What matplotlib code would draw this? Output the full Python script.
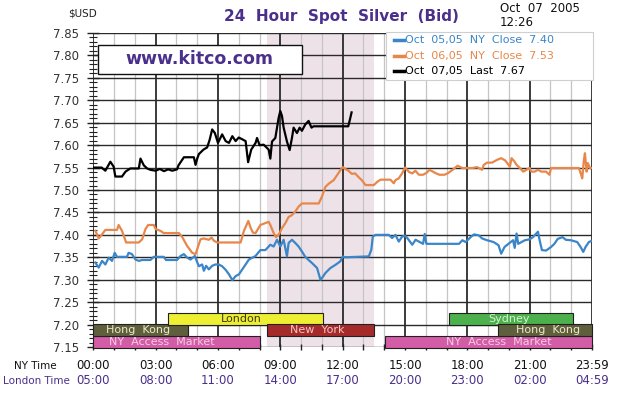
import numpy as np
import matplotlib.pyplot as plt
from matplotlib.patches import Rectangle
from matplotlib.lines import Line2D
from matplotlib.ticker import MultipleLocator, FormatStrFormatter

# --- data (hours NY time, price $USD) ---
t_oct05 = [0.1, 0.26, 0.42, 0.58, 0.74, 0.9, 1.03, 1.14, 1.62, 1.7, 1.86, 2.03, 2.19, 2.35, 2.75,
           2.91, 3.39, 3.5, 4.03, 4.2, 4.36, 4.52, 4.68, 4.89, 4.95, 5.08, 5.24, 5.32, 5.43, 5.56,
           5.72, 5.88, 6.04, 6.2, 6.37, 6.53, 6.69, 6.85, 7.01, 7.17, 7.33, 7.49, 7.65, 7.81, 8.04,
           8.28, 8.52, 8.68, 8.84, 9.0, 9.16, 9.32, 9.4, 9.56, 9.72, 9.88, 10.04, 10.2, 10.36, 10.53,
           10.77, 10.93, 11.01, 11.17, 11.41, 11.65, 11.89, 12.0, 12.12, 13.26, 13.38, 13.45, 13.58,
           14.22, 14.38, 14.54, 14.7, 14.86, 15.0, 15.11, 15.35, 15.51, 15.67, 15.87, 15.95, 16.03,
           16.18, 17.6, 17.76, 17.92, 18.16, 18.32, 18.55, 18.71, 18.95, 19.26, 19.5, 19.63, 19.79,
           19.98, 20.2, 20.28, 20.37, 20.45, 20.77, 21.0, 21.16, 21.4, 21.48, 21.59, 21.79, 22.03,
           22.19, 22.35, 22.58, 22.74, 22.98, 23.29, 23.45, 23.58, 23.69, 23.85, 23.95]
p_oct05 = [7.338, 7.327, 7.342, 7.334, 7.349, 7.342, 7.360, 7.351, 7.351, 7.360, 7.357, 7.345, 7.342,
           7.344, 7.344, 7.351, 7.351, 7.344, 7.344, 7.353, 7.357, 7.349, 7.345, 7.353, 7.345, 7.330,
           7.334, 7.320, 7.331, 7.323, 7.331, 7.334, 7.334, 7.330, 7.322, 7.312, 7.299, 7.308, 7.312,
           7.323, 7.334, 7.345, 7.349, 7.353, 7.366, 7.366, 7.378, 7.374, 7.389, 7.374, 7.389, 7.352,
           7.382, 7.389, 7.382, 7.374, 7.363, 7.351, 7.344, 7.337, 7.326, 7.300, 7.304, 7.315, 7.326,
           7.333, 7.341, 7.352, 7.350, 7.352, 7.367, 7.396, 7.400, 7.400, 7.393, 7.400, 7.385, 7.396,
           7.398, 7.393, 7.378, 7.389, 7.385, 7.380, 7.402, 7.380, 7.380, 7.380, 7.388, 7.384, 7.395,
           7.401, 7.399, 7.392, 7.388, 7.384, 7.377, 7.358, 7.373, 7.380, 7.388, 7.371, 7.403, 7.380,
           7.388, 7.390, 7.395, 7.407, 7.388, 7.366, 7.365, 7.373, 7.380, 7.391, 7.395, 7.389, 7.388,
           7.384, 7.373, 7.362, 7.373, 7.384, 7.386]

t_oct06 = [0.1, 0.26, 0.42, 0.58, 1.14, 1.22, 1.38, 1.58, 2.19, 2.35, 2.51, 2.64, 2.91, 3.0, 3.23,
           3.39, 4.12, 4.28, 4.52, 4.76, 4.92, 5.05, 5.16, 5.32, 5.56, 5.69, 5.8, 5.96, 7.09, 7.25,
           7.46, 7.57, 7.68, 7.81, 8.04, 8.44, 8.52, 8.68, 8.79, 8.92, 9.08, 9.24, 9.4, 9.56, 9.72,
           9.88, 10.04, 10.85, 11.0, 11.17, 11.33, 11.57, 11.73, 11.89, 12.0, 12.12, 12.28, 12.44,
           12.6, 12.76, 12.92, 13.1, 13.5, 13.66, 13.82, 14.3, 14.46, 14.54, 14.7, 14.86, 15.0, 15.2,
           15.35, 15.5, 15.67, 15.87, 16.03, 16.18, 16.34, 16.5, 16.66, 16.9, 17.05, 17.29, 17.53,
           17.76, 18.0, 18.24, 18.47, 18.71, 18.79, 18.95, 19.19, 19.42, 19.63, 19.82, 20.05, 20.13,
           20.26, 20.37, 20.53, 20.69, 20.84, 21.0, 21.08, 21.24, 21.4, 21.56, 21.79, 21.95, 22.03,
           23.37, 23.45, 23.53, 23.61, 23.66, 23.74, 23.8, 23.9, 23.98]
p_oct06 = [7.409, 7.392, 7.401, 7.411, 7.411, 7.422, 7.409, 7.383, 7.383, 7.390, 7.413, 7.422, 7.422,
           7.413, 7.409, 7.404, 7.404, 7.395, 7.375, 7.360, 7.357, 7.375, 7.390, 7.392, 7.389, 7.394,
           7.387, 7.383, 7.383, 7.409, 7.431, 7.416, 7.405, 7.404, 7.422, 7.429, 7.422, 7.404, 7.395,
           7.400, 7.415, 7.426, 7.440, 7.444, 7.452, 7.463, 7.470, 7.470, 7.485, 7.507, 7.514, 7.522,
           7.533, 7.544, 7.551, 7.547, 7.543, 7.536, 7.537, 7.529, 7.522, 7.511, 7.511, 7.518, 7.523,
           7.523, 7.515, 7.522, 7.526, 7.537, 7.550, 7.540, 7.537, 7.543, 7.534, 7.534, 7.538, 7.545,
           7.541, 7.537, 7.534, 7.534, 7.537, 7.545, 7.554, 7.549, 7.549, 7.549, 7.551, 7.545, 7.556,
           7.561, 7.561, 7.567, 7.571, 7.566, 7.552, 7.571, 7.564, 7.556, 7.549, 7.541, 7.545, 7.549,
           7.541, 7.541, 7.545, 7.541, 7.541, 7.534, 7.549, 7.549, 7.538, 7.526, 7.567, 7.582, 7.541,
           7.560, 7.549, 7.549]

t_oct07 = [0.0, 0.4, 0.58, 0.82, 0.98, 1.06, 1.38, 1.55, 1.78, 2.19, 2.27, 2.43, 2.59, 2.75, 3.0,
           3.2, 3.4, 3.6, 3.8, 4.03, 4.1, 4.36, 4.84, 4.92, 5.0, 5.08, 5.3, 5.48, 5.6, 5.72, 5.85,
           6.0, 6.2, 6.37, 6.53, 6.69, 6.85, 7.0, 7.17, 7.33, 7.45, 7.6, 7.81, 7.88, 8.0, 8.2, 8.44,
           8.52, 8.6, 8.76, 8.92, 9.0, 9.08, 9.16, 9.32, 9.45, 9.56, 9.64, 9.8, 9.93, 10.04, 10.2,
           10.36, 10.5, 10.6, 10.75, 12.27, 12.35, 12.43]
p_oct07 = [7.550, 7.550, 7.543, 7.563, 7.552, 7.530, 7.530, 7.541, 7.548, 7.548, 7.570, 7.555, 7.548,
           7.545, 7.543, 7.547, 7.542, 7.546, 7.543, 7.546, 7.555, 7.573, 7.573, 7.556, 7.570, 7.580,
           7.590, 7.595, 7.612, 7.635, 7.627, 7.605, 7.624, 7.609, 7.605, 7.620, 7.609, 7.617, 7.613,
           7.609, 7.562, 7.590, 7.605, 7.616, 7.600, 7.601, 7.590, 7.570, 7.608, 7.616, 7.661, 7.676,
           7.665, 7.639, 7.608, 7.589, 7.616, 7.639, 7.627, 7.639, 7.632, 7.646, 7.654, 7.639, 7.642,
           7.642, 7.642, 7.657, 7.673]

legend_labels = ['Oct  05,05  NY  Close  7.40', 'Oct  06,05  NY  Close  7.53', 'Oct  07,05  Last  7.67']

# market sessions (hours NY time)
sess_names = ['NY  Access  Market', 'Hong  Kong', 'London', 'New  York', 'NY  Access  Market',
              'Sydney', 'Hong  Kong']
sess_start = [0.0, 0.0, 3.6, 8.35, 14.05, 17.1, 19.5]
sess_end = [8.0, 4.55, 11.05, 13.5, 24.0, 23.1, 24.0]

ny_ticks = [0, 3, 6, 9, 12, 15, 18, 21, 24]
ny_labels = ['00:00', '03:00', '06:00', '09:00', '12:00', '15:00', '18:00', '21:00', '23:59']
ldn_labels = ['05:00', '08:00', '11:00', '14:00', '17:00', '20:00', '23:00', '02:00', '04:59']

purple = '#4a2f8c'
blue = '#3a86c8'
orange = '#e8874a'

fig = plt.figure(figsize=(6.24, 3.96), dpi=100)
ax = fig.add_axes([93.3 / 624, 1 - 347 / 396, (592 - 93.3) / 624, (347 - 33) / 396])

# NY trading hours shading
ax.axvspan(8.35, 13.5, color='#eee2e9', zorder=0.2, lw=0)

ax.plot(t_oct05, p_oct05, color=blue, lw=1.6, zorder=3)
ax.plot(t_oct06, p_oct06, color=orange, lw=1.6, zorder=3)
ax.plot(t_oct07, p_oct07, color='black', lw=1.6, zorder=3)

# session bars along the bottom
sess_style = {
    'London': ('#eeee33', '#3a3a10', 2),
    'Sydney': ('#4cb04c', '#d8f2d0', 2),
    'Hong  Kong': ('#5f5f3d', '#ecebc8', 1),
    'New  York': ('#a52a2a', '#f5c8c8', 1),
    'NY  Access  Market': ('#d35ca6', '#f6cde8', 0),
}
row_y = [7.1485, 7.1745, 7.2]
row_h = 0.0262
label_x = [3.3, 2.15, 7.1, 10.8, 19.5, 20.0, 21.9]
for name, s, e, lx in zip(sess_names, sess_start, sess_end, label_x):
    face, tcol, row = sess_style[name]
    ax.add_patch(Rectangle((s, row_y[row]), e - s, row_h, facecolor=face, edgecolor='#202020',
                           lw=0.8, zorder=2.5, clip_on=False))
    ax.text(lx, row_y[row] + row_h / 2, name, color=tcol, fontsize=8, ha='center', va='center',
            zorder=2.6)

ax.set_xlim(0, 24)
ax.set_ylim(7.15, 7.85)
ax.xaxis.set_major_locator(MultipleLocator(3))
ax.xaxis.set_minor_locator(MultipleLocator(1))
ax.yaxis.set_major_locator(MultipleLocator(0.05))
ax.yaxis.set_minor_locator(MultipleLocator(0.01))
ax.yaxis.set_major_formatter(FormatStrFormatter('%.2f'))

ax.set_axisbelow(True)
ax.grid(which='major', axis='y', color='#2a2a2a', lw=1.0)
ax.grid(which='major', axis='x', color='#1a1a1a', lw=1.2)
ax.grid(which='minor', axis='x', color='#c4c4c4', lw=0.9)
for sp in ax.spines.values():
    sp.set_visible(False)

ax.tick_params(axis='y', which='major', direction='inout', length=9, width=1, color='#222',
               labelsize=8.5, labelcolor='#333333', pad=6)
ax.tick_params(axis='y', which='minor', direction='inout', length=6, width=0.8, color='#222')
ax.tick_params(axis='x', which='both', direction='inout', length=5, width=1, color='#222',
               labelbottom=False)

# two rows of time labels
xtr = ax.get_xaxis_transform()
for t, a, b in zip(ny_ticks, ny_labels, ldn_labels):
    ax.text(t, -0.0605, a, transform=xtr, ha='center', va='center', fontsize=8.5, color='#111111')
    ax.text(t, -0.108, b, transform=xtr, ha='center', va='center', fontsize=8.5, color=purple)
fig.text(57 / 624, 1 - 366 / 396, 'NY Time', ha='right', va='center', fontsize=7.5, color='#111111')
fig.text(70 / 624, 1 - 381 / 396, 'London Time', ha='right', va='center', fontsize=7.5, color=purple)

# header texts
fig.text(341 / 624, 1 - 17 / 396, '24  Hour  Spot  Silver  (Bid)', ha='center', va='center',
         fontsize=11, fontweight='bold', color=purple)
fig.text(68 / 624, 1 - 14 / 396, '$USD', ha='left', va='center', fontsize=7.5, color='#222222')
fig.text(500 / 624, 1 - 9 / 396, 'Oct  07  2005', ha='left', va='center', fontsize=8.5, color='#111111')
fig.text(500 / 624, 1 - 22 / 396, '12:26', ha='left', va='center', fontsize=8.5, color='#111111')

# kitco box
fig.add_artist(Rectangle((98 / 624, 1 - 74 / 396), 204 / 624, 29 / 396, transform=fig.transFigure,
                         facecolor='white', edgecolor='#111111', lw=1.0, zorder=5))
fig.text(199 / 624, 1 - 59 / 396, 'www.kitco.com', ha='center', va='center', fontsize=12.5,
         fontweight='bold', color=purple, zorder=6)

# legend box
fig.add_artist(Rectangle((386 / 624, 1 - 80 / 396), 207 / 624, 48 / 396, transform=fig.transFigure,
                         facecolor='white', edgecolor='#cfcfcf', lw=0.8, zorder=5))
for i, (lab, col) in enumerate(zip(legend_labels, [blue, orange, 'black'])):
    yy = 1 - (40 + 15.5 * i) / 396
    fig.add_artist(Line2D([394 / 624, 404 / 624], [yy, yy], transform=fig.transFigure, color=col,
                          lw=2.5, zorder=6))
    fig.text(405 / 624, yy, lab, ha='left', va='center', fontsize=8, color=col, zorder=6)

fig.savefig('out.png', dpi=100)
